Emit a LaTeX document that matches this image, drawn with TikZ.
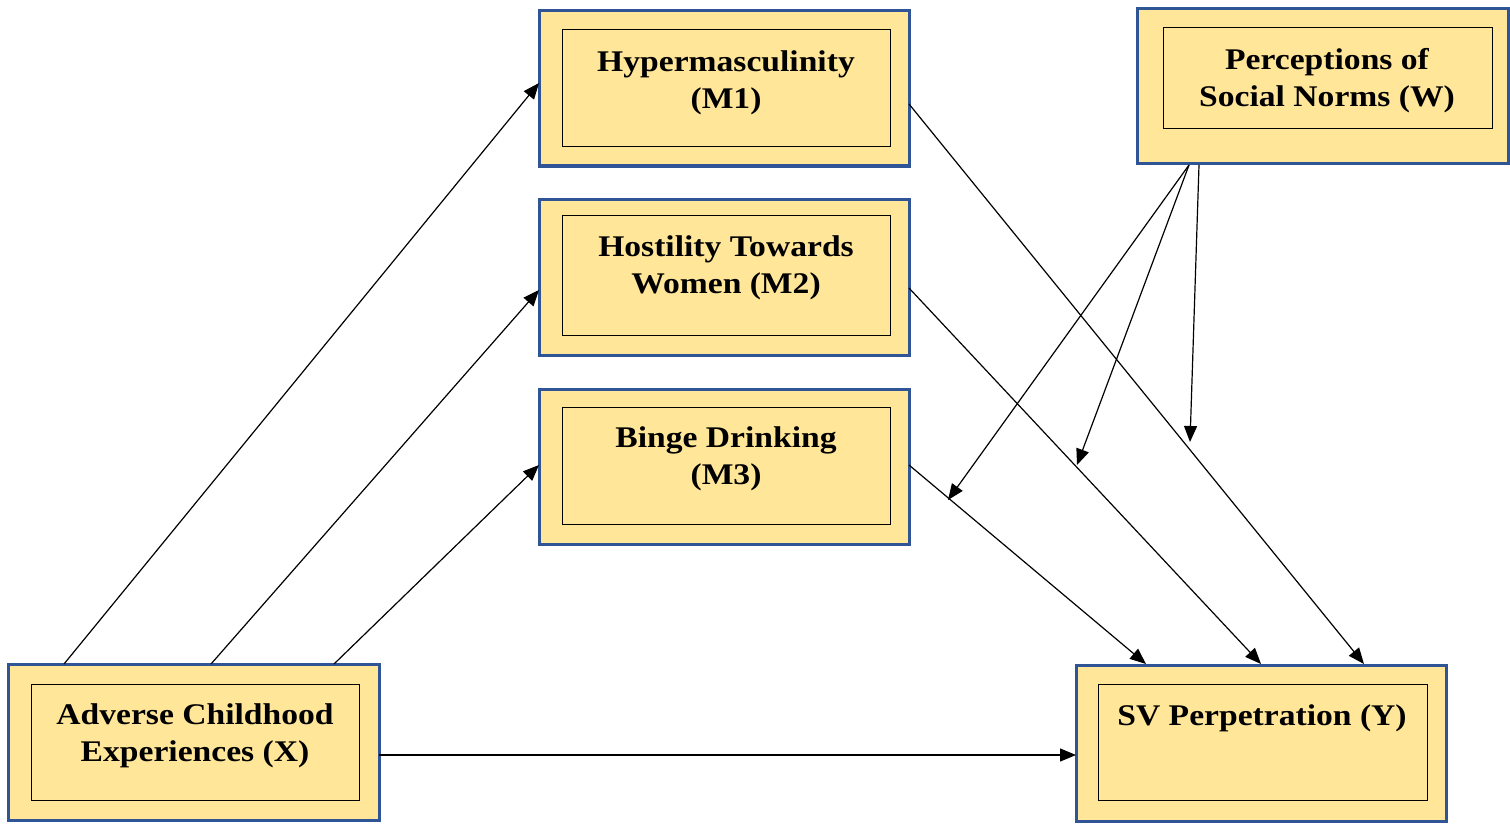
\documentclass[tikz,border=0pt]{standalone}
\usepackage{fontspec}
\setmainfont{Liberation Serif}[FakeStretch=1.12]
\usetikzlibrary{arrows.meta}
\definecolor{boxfill}{HTML}{FFE699}
\definecolor{boxline}{HTML}{2F5597}
\begin{document}
\begin{tikzpicture}[x=0.5pt,y=-0.5pt,
  outerbox/.style={draw=boxline,line width=1.5pt,fill=boxfill},
  innerbox/.style={draw=black,line width=0.5pt},
  lbl/.style={font=\fontsize{15}{18.5}\selectfont\bfseries,align=center,inner sep=0pt},
  conn/.style={line width=0.6pt,-{Triangle[length=8pt,width=6.5pt]}}]
\useasboundingbox (0,0) rectangle (1510,824);
% outer boxes
\path[outerbox] (539,11) rectangle (909,166);
\path[outerbox] (539,199) rectangle (909,355);
\path[outerbox] (539,389) rectangle (909,544);
\path[outerbox] (1137,9) rectangle (1508,164);
\path[outerbox] (8,664) rectangle (379,820);
\path[outerbox] (1076,665) rectangle (1446,821);
% inner boxes
\draw[innerbox] (562,30) rectangle (890,147);
\draw[innerbox] (562,215) rectangle (890,335);
\draw[innerbox] (562,407) rectangle (890,524);
\draw[innerbox] (1163,28) rectangle (1492,129);
\draw[innerbox] (31,684) rectangle (359,800);
\draw[innerbox] (1098,684) rectangle (1427,800);
% labels
\node[lbl] (m1) at (726,83) {Hypermasculinity\\(M1)};
\node[lbl] (m2) at (726,268) {Hostility Towards\\Women (M2)};
\node[lbl] (m3) at (726,459) {Binge Drinking\\(M3)};
\node[lbl] (w) at (1327,81) {Perceptions of\\Social Norms (W)};
\node[lbl] (x) at (195,736) {Adverse Childhood\\Experiences (X)};
\node[lbl] (y) at (1262,718) {SV Perpetration (Y)};
% attachment points
\coordinate (x1) at (64,664);
\coordinate (x2) at (211,664);
\coordinate (x3) at (334,664);
\coordinate (x4) at (379,755);
\coordinate (m1in) at (539,83);
\coordinate (m2in) at (539,290);
\coordinate (m3in) at (539,465);
\coordinate (m1out) at (909,104);
\coordinate (m2out) at (909,288);
\coordinate (m3out) at (909,465);
\coordinate (y1) at (1364,664);
\coordinate (y2) at (1261,664);
\coordinate (y3) at (1146,664);
\coordinate (y4) at (1076,755);
\coordinate (w1) at (1189,165);
\coordinate (w2) at (1189,165);
\coordinate (w3) at (1199,165);
\coordinate (p3) at (948,500);
\coordinate (p2) at (1077,465);
\coordinate (p1) at (1190,442);
% connectors
\draw[conn] (x1) -- (m1in);
\draw[conn] (x2) -- (m2in);
\draw[conn] (x3) -- (m3in);
\draw[conn] (x4) -- (y4);
\draw[conn] (m1out) -- (y1);
\draw[conn] (m2out) -- (y2);
\draw[conn] (m3out) -- (y3);
\draw[conn] (w1) -- (p3);
\draw[conn] (w2) -- (p2);
\draw[conn] (w3) -- (p1);
\end{tikzpicture}
\end{document}
